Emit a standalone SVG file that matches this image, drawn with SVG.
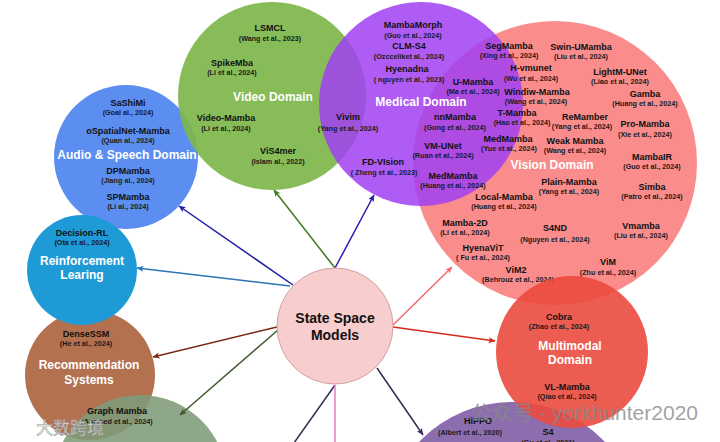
<svg xmlns="http://www.w3.org/2000/svg" width="720" height="442" viewBox="0 0 720 442">
<style>
text{font-family:"Liberation Sans",Arial,sans-serif;font-weight:bold;text-anchor:middle}
.n{font-size:9px;fill:#111}
.c{font-size:7.2px;fill:#1a1a1a}
.d{font-size:12px;fill:#fff}
.ln{fill:none;stroke-width:1.5}
</style>
<defs>
<marker id="mA" viewBox="0 0 8 8" refX="7.5" refY="4" markerWidth="7" markerHeight="7" orient="auto" markerUnits="userSpaceOnUse"><path d="M0,0.5 L8,4 L0,7.5 L2,4 z" fill="#1c1ca8"/></marker>
<marker id="mR" viewBox="0 0 8 8" refX="7.5" refY="4" markerWidth="7" markerHeight="7" orient="auto" markerUnits="userSpaceOnUse"><path d="M0,0.5 L8,4 L0,7.5 L2,4 z" fill="#2a74b8"/></marker>
<marker id="mV" viewBox="0 0 8 8" refX="7.5" refY="4" markerWidth="7" markerHeight="7" orient="auto" markerUnits="userSpaceOnUse"><path d="M0,0.5 L8,4 L0,7.5 L2,4 z" fill="#3d7a22"/></marker>
<marker id="mM" viewBox="0 0 8 8" refX="7.5" refY="4" markerWidth="7" markerHeight="7" orient="auto" markerUnits="userSpaceOnUse"><path d="M0,0.5 L8,4 L0,7.5 L2,4 z" fill="#2a1ab0"/></marker>
<marker id="mVi" viewBox="0 0 8 8" refX="7.5" refY="4" markerWidth="7" markerHeight="7" orient="auto" markerUnits="userSpaceOnUse"><path d="M0,0.5 L8,4 L0,7.5 L2,4 z" fill="#f26a6a"/></marker>
<marker id="mMu" viewBox="0 0 8 8" refX="7.5" refY="4" markerWidth="7" markerHeight="7" orient="auto" markerUnits="userSpaceOnUse"><path d="M0,0.5 L8,4 L0,7.5 L2,4 z" fill="#d42a1a"/></marker>
<marker id="mRe" viewBox="0 0 8 8" refX="7.5" refY="4" markerWidth="7" markerHeight="7" orient="auto" markerUnits="userSpaceOnUse"><path d="M0,0.5 L8,4 L0,7.5 L2,4 z" fill="#7a2a14"/></marker>
<marker id="mG" viewBox="0 0 8 8" refX="7.5" refY="4" markerWidth="7" markerHeight="7" orient="auto" markerUnits="userSpaceOnUse"><path d="M0,0.5 L8,4 L0,7.5 L2,4 z" fill="#3f5a30"/></marker>
<marker id="mP" viewBox="0 0 8 8" refX="7.5" refY="4" markerWidth="7" markerHeight="7" orient="auto" markerUnits="userSpaceOnUse"><path d="M0,0.5 L8,4 L0,7.5 L2,4 z" fill="#3a2858"/></marker>
</defs>
<rect width="720" height="442" fill="#fff"/>

<g id="audio">
<circle cx="126" cy="157" r="72" fill="#5b8ef0"/>
<text class="n" x="128" y="106">SaShiMi</text>
<text class="c" x="128" y="115">(Goal al., 2024)</text>
<text class="n" x="128" y="134">oSpatialNet-Mamba</text>
<text class="c" x="128" y="143">(Quan al., 2024)</text>
<text class="d" x="127" y="159">Audio &amp; Speech Domain</text>
<text class="n" x="128" y="174">DPMamba</text>
<text class="c" x="128" y="183">(Jiang al., 2024)</text>
<text class="n" x="128" y="200">SPMamba</text>
<text class="c" x="128" y="209">(Li al., 2024)</text>
</g>

<g id="video">
<circle cx="272" cy="96" r="94" fill="#7db64b" fill-opacity="0.92"/>
<text class="n" x="270" y="31">LSMCL</text>
<text class="c" x="270" y="41">(Wang et al., 2023)</text>
<text class="n" x="232" y="66">SpikeMba</text>
<text class="c" x="232" y="75">(Li et al., 2024)</text>
<text class="d" x="273" y="101">Video Domain</text>
<text class="n" x="226" y="121">Video-Mamba</text>
<text class="c" x="226" y="131">(Li et al., 2024)</text>
<text class="n" x="278" y="154">ViS4mer</text>
<text class="c" x="278" y="164">(Islam al., 2022)</text>
</g>

<g id="vision">
<circle cx="555" cy="163" r="142" fill="#fa8c8c"/>
<text class="d" x="552" y="169">Vision Domain</text>
<text class="n" x="581" y="50">Swin-UMamba</text>
<text class="c" x="581" y="59">(Liu et al., 2024)</text>
<text class="n" x="620" y="75">LightM-UNet</text>
<text class="c" x="620" y="84">(Liao et al., 2024)</text>
<text class="n" x="645" y="97">Gamba</text>
<text class="c" x="645" y="106">(Huang et al., 2024)</text>
<text class="n" x="585" y="120">ReMamber</text>
<text class="c" x="582" y="129">(Yang et al., 2024)</text>
<text class="n" x="645" y="127">Pro-Mamba</text>
<text class="c" x="645" y="137">(Xie et al., 2024)</text>
<text class="n" x="575" y="144">Weak Mamba</text>
<text class="c" x="575" y="153">(Wang et al., 2024)</text>
<text class="n" x="652" y="160">MambaIR</text>
<text class="c" x="652" y="169">(Guo et al., 2024)</text>
<text class="n" x="569" y="185">Plain-Mamba</text>
<text class="c" x="569" y="194">(Yang et al., 2024)</text>
<text class="n" x="652" y="190">Simba</text>
<text class="c" x="652" y="199">(Patro et al., 2024)</text>
<text class="n" x="504" y="200">Local-Mamba</text>
<text class="c" x="504" y="209">(Huang et al., 2024)</text>
<text class="n" x="465" y="226">Mamba-2D</text>
<text class="c" x="465" y="235">(Li et al., 2024)</text>
<text class="n" x="555" y="231">S4ND</text>
<text class="c" x="555" y="242">(Nguyen et al., 2024)</text>
<text class="n" x="641" y="229">Vmamba</text>
<text class="c" x="641" y="238">(Liu et al., 2024)</text>
<text class="n" x="483" y="251">HyenaViT</text>
<text class="c" x="483" y="260">( Fu et al., 2024)</text>
<text class="n" x="608" y="265">ViM</text>
<text class="c" x="608" y="275">(Zhu et al., 2024)</text>
<text class="n" x="516" y="273">ViM2</text>
<text class="c" x="518" y="282">(Behrouz et al., 2024)</text>
</g>

<g id="medical">
<circle cx="421" cy="104" r="102" fill="#a040f2" fill-opacity="0.85"/>
<text class="n" x="413" y="28">MambaMorph</text>
<text class="c" x="413" y="37.5">(Guo et al., 2024)</text>
<text class="n" x="409" y="49">CLM-S4</text>
<text class="c" x="409" y="59">(Ozcceliket al., 2024)</text>
<text class="n" x="407" y="72">Hyenadna</text>
<text class="c" x="409" y="82">( nguyen et al., 2023)</text>
<text class="d" x="421" y="106">Medical Domain</text>
<text class="n" x="348" y="120">Vivim</text>
<text class="c" x="348" y="131">(Yang et al., 2024)</text>
<text class="n" x="383" y="165">FD-VIsion</text>
<text class="c" x="384" y="175">( Zheng et al., 2023)</text>
<text class="n" x="473" y="85">U-Mamba</text>
<text class="c" x="473" y="94">(Ma et al., 2024)</text>
<text class="n" x="455" y="120">nnMamba</text>
<text class="c" x="455" y="130">(Gong et al., 2024)</text>
<text class="n" x="443" y="149">VM-UNet</text>
<text class="c" x="443" y="158">(Ruan et al., 2024)</text>
<text class="n" x="453" y="179">MedMamba</text>
<text class="c" x="453" y="188">(Huang et al., 2024)</text>
<text class="n" x="509" y="49">SegMamba</text>
<text class="c" x="509" y="58">(Xing et al., 2024)</text>
<text class="n" x="531" y="71">H-vmunet</text>
<text class="c" x="531" y="81">(Wu et al., 2024)</text>
<text class="n" x="537" y="95">Windiw-Mamba</text>
<text class="c" x="536" y="104">(Wang et al., 2024)</text>
<text class="n" x="517" y="116">T-Mamba</text>
<text class="c" x="522" y="125">(Hao et al., 2024)</text>
<text class="n" x="508" y="142">MedMamba</text>
<text class="c" x="509" y="151">(Yue et al., 2024)</text>
</g>

<g id="hippo">
<circle cx="512" cy="530" r="128" fill="#8c6eaf"/>
<text class="n" x="478" y="424">HiPPO</text>
<text class="c" x="470" y="435">(Albert et al., 2020)</text>
<text class="n" x="548" y="435">S4</text>
<text class="c" x="548" y="445">(Gu et al., 2021)</text>
</g>

<g id="multimodal">
<circle cx="572" cy="352" r="76" fill="#eb4a3e" fill-opacity="0.9"/>
<text class="n" x="559" y="320">Cobra</text>
<text class="c" x="559" y="329">(Zhao et al., 2024)</text>
<text class="d" x="570" y="350">Multimodal</text>
<text class="d" x="570" y="364">Domain</text>
<text class="n" x="567" y="390">VL-Mamba</text>
<text class="c" x="567" y="399">(Qiao et al., 2024)</text>
</g>

<g id="recommendation">
<circle cx="90" cy="375" r="65" fill="#b47150"/>
<text class="n" x="86" y="337">DenseSSM</text>
<text class="c" x="86" y="346">(He et al., 2024)</text>
<text class="d" x="89" y="369">Recommendation</text>
<text class="d" x="89" y="384">Systems</text>
</g>

<g id="graph">
<circle cx="140" cy="482" r="87" fill="#7d9b78" fill-opacity="0.88"/>
<text class="n" x="117" y="414">Graph Mamba</text>
<text class="c" x="117" y="424">(Ahamed et al., 2024)</text>
</g>

<g id="rl">
<circle cx="82" cy="270" r="55" fill="#1e9bd7"/>
<text class="n" x="82" y="236">Decision-RL</text>
<text class="c" x="82" y="245">(Ota et al., 2024)</text>
<text class="d" x="82" y="265">Reinforcement</text>
<text class="d" x="82" y="279">Learing</text>
</g>

<g id="connectors">
<line class="ln" x1="293" y1="285" x2="179" y2="206" stroke="#1c1ca8" marker-end="url(#mA)"/>
<line class="ln" x1="290" y1="286" x2="137" y2="268" stroke="#2a74b8" marker-end="url(#mR)"/>
<line class="ln" x1="335" y1="268" x2="274" y2="190" stroke="#3d7a22" marker-end="url(#mV)"/>
<line class="ln" x1="335" y1="268" x2="374" y2="195" stroke="#2a1ab0" marker-end="url(#mM)"/>
<line class="ln" x1="393" y1="325" x2="452" y2="267" stroke="#f26a6a" marker-end="url(#mVi)"/>
<line class="ln" x1="393" y1="327" x2="495" y2="341" stroke="#d42a1a" marker-end="url(#mMu)"/>
<line class="ln" x1="277" y1="327" x2="153" y2="357" stroke="#7a2a14" marker-end="url(#mRe)"/>
<line class="ln" x1="278" y1="330" x2="180" y2="415" stroke="#3f5a30" marker-end="url(#mG)"/>
<line class="ln" x1="335" y1="385" x2="289" y2="450" stroke="#2a3050"/>
<line class="ln" x1="335" y1="385" x2="335" y2="450" stroke="#e87ad0"/>
<line class="ln" x1="377" y1="368" x2="423" y2="435" stroke="#3a2858" marker-end="url(#mP)"/>
</g>

<g id="ssm">
<circle cx="335" cy="326" r="58" fill="#f8cdcd" stroke="#d4a0a0" stroke-width="1"/>
<text x="335" y="323" style="font-size:14px;fill:#111">State Space</text>
<text x="335" y="340" style="font-size:14px;fill:#111">Models</text>
</g>

<g id="watermark">
<text x="698" y="420" style="text-anchor:end;font-size:21px;font-weight:normal;fill:#888;fill-opacity:0.8;font-family:'Liberation Sans','Noto Sans CJK SC',sans-serif">公众号 · yorkhunter2020</text>
<text x="36" y="434" style="text-anchor:start;font-size:17px;font-weight:normal;fill:#eee;fill-opacity:0.85;stroke:#999;stroke-width:0.6;font-family:'Noto Sans CJK SC',sans-serif">大数跨境</text>
</g>
</svg>
